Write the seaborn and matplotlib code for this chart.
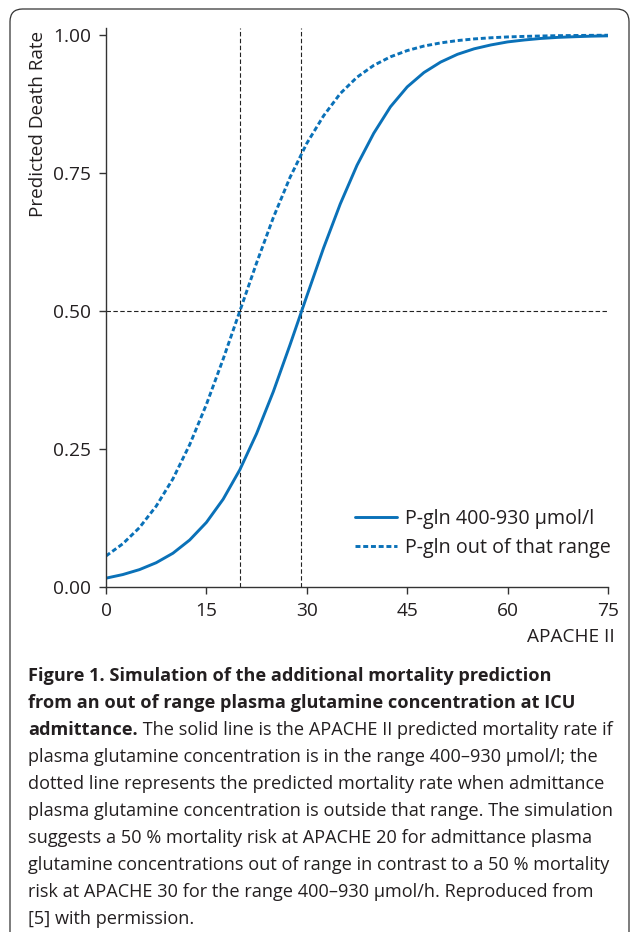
import matplotlib
matplotlib.use("Agg")
import matplotlib.pyplot as plt
from matplotlib.patches import FancyBboxPatch
import seaborn as sns
import pandas as pd

# ---- data ----
apache = [0, 2.5, 5, 7.5, 10, 12.5, 15, 17.5, 20, 22.5, 25, 27.5, 30, 32.5, 35,
          37.5, 40, 42.5, 45, 47.5, 50, 52.5, 55, 57.5, 60, 62.5, 65, 67.5, 70,
          72.5, 75]
in_range = [0.0160, 0.0225, 0.0315, 0.0440, 0.0612, 0.0851, 0.117, 0.159, 0.2125,
            0.278, 0.354, 0.439, 0.527, 0.614, 0.694, 0.764, 0.822, 0.870, 0.906,
            0.932, 0.951, 0.965, 0.975, 0.982, 0.9875, 0.991, 0.9938, 0.9957,
            0.9969, 0.9979, 0.9985]
out_range = [0.0562, 0.0782, 0.1076, 0.1465, 0.196, 0.2578, 0.3307, 0.4128, 0.5,
             0.5872, 0.6693, 0.7422, 0.8038, 0.8535, 0.8940, 0.9235, 0.9450, 0.9605,
             0.9718, 0.9800, 0.9857, 0.9899, 0.9929, 0.9950, 0.9965, 0.9975, 0.9982,
             0.9988, 0.9991, 0.9994, 0.9996]
series_names = ["P-gln 400-930 µmol/l", "P-gln out of that range"]
ref_x = [20, 29.2]
ref_y = 0.5
x_ticks = [0, 15, 30, 45, 60, 75]
y_ticks = [0.0, 0.25, 0.5, 0.75, 1.0]

caption_lines = [
    ("bold", "Figure 1. Simulation of the additional mortality prediction"),
    ("bold", "from an out of range plasma glutamine concentration at ICU"),
    ("mixed", "admittance.", " The solid line is the APACHE II predicted mortality rate if"),
    ("normal", "plasma glutamine concentration is in the range 400–930 µmol/l; the"),
    ("normal", "dotted line represents the predicted mortality rate when admittance"),
    ("normal", "plasma glutamine concentration is outside that range. The simulation"),
    ("normal", "suggests a 50 % mortality risk at APACHE 20 for admittance plasma"),
    ("normal", "glutamine concentrations out of range in contrast to a 50 % mortality"),
    ("normal", "risk at APACHE 30 for the range 400–930 µmol/h. Reproduced from"),
    ("normal", "[5] with permission."),
]

df = pd.DataFrame({
    "APACHE II": apache * 2,
    "rate": in_range + out_range,
    "group": [series_names[0]] * len(apache) + [series_names[1]] * len(apache),
})

sns.set_theme(style="white")
plt.rcParams["font.family"] = ["Open Sans", "DejaVu Sans"]

W, H = 631, 932
fig = plt.figure(figsize=(W / 100, H / 100), dpi=100)
fig.patch.set_facecolor("white")

# rounded frame
frame = FancyBboxPatch((10 / W, -0.05), (619 / W), 1 - 9 / H + 0.05,
                       boxstyle="round,pad=0,rounding_size=0.02",
                       transform=fig.transFigure, facecolor="none",
                       edgecolor="#333333", linewidth=0.9, mutation_aspect=W / H)
fig.patches.append(frame)

ax = fig.add_axes([106 / W, 1 - 587 / H, (608 - 106) / W, (587 - 28) / H])
blue = "#0a71b8"
ink = "#231f20"
sns.lineplot(data=df[df.group == series_names[0]], x="APACHE II", y="rate", ax=ax,
             color=blue, linewidth=2.1, label=series_names[0])
sns.lineplot(data=df[df.group == series_names[1]], x="APACHE II", y="rate", ax=ax,
             color=blue, linewidth=2.1, label=series_names[1])
ax.lines[1].set_dashes((1.7, 0.95))

for xv in ref_x:
    ax.axvline(xv, color="#222222", linewidth=0.8, dashes=(4, 2.2), zorder=1)
ax.axhline(ref_y, color="#222222", linewidth=0.8, dashes=(4, 2.2), zorder=1)

ax.set_xlim(0, 75)
ax.set_ylim(0, 1.0127)
ax.set_xticks(x_ticks)
ax.set_xticklabels([str(t) for t in x_ticks])
ax.set_yticks(y_ticks)
ax.set_yticklabels([f"{t:.2f}" for t in y_ticks])
sns.despine(ax=ax)
for s in ["left", "bottom"]:
    ax.spines[s].set_color("#333333")
    ax.spines[s].set_linewidth(1.0)
ax.tick_params(axis="both", direction="out", length=5, width=1.0, color="#333333",
               labelsize=13.8, labelcolor=ink, left=True, bottom=True)
ax.tick_params(axis="x", pad=5.5)
ax.tick_params(axis="y", pad=5.5)
ax.set_xlabel("")
ax.set_ylabel("")

fig.text(38 / W, 1 - 31 / H, "Predicted Death Rate", rotation=90, ha="center",
         va="top", fontsize=13.6, color=ink)
fig.text(615 / W, 1 - 637 / H, "APACHE II", ha="right", va="center",
         fontsize=13.7, color=ink)

leg = ax.legend(loc="lower right", bbox_to_anchor=(611 / W, 1 - 558 / H),
                bbox_transform=fig.transFigure, frameon=False, fontsize=14.2,
                handlelength=2.15, handletextpad=0.4, labelspacing=0.48,
                borderpad=0, borderaxespad=0)
for t in leg.get_texts():
    t.set_color(ink)

# caption
cap_x = 28 / W
y0 = 676
step = 27
cap_fs = 13.05
fig.canvas.draw()
renderer = fig.canvas.get_renderer()
for i, line in enumerate(caption_lines):
    yy = 1 - (y0 + i * step) / H
    if line[0] == "bold":
        fig.text(cap_x, yy, line[1], fontsize=cap_fs, fontweight="bold",
                 color=ink, va="center", ha="left")
    elif line[0] == "normal":
        fig.text(cap_x, yy, line[1], fontsize=cap_fs, color=ink,
                 va="center", ha="left")
    else:
        tb = fig.text(cap_x, yy, line[1], fontsize=cap_fs, fontweight="bold",
                      color=ink, va="center", ha="left")
        bb = tb.get_window_extent(renderer=renderer)
        fig.text(bb.x1 / W, yy, line[2], fontsize=cap_fs, color=ink,
                 va="center", ha="left")

fig.savefig("out.png", dpi=100)
